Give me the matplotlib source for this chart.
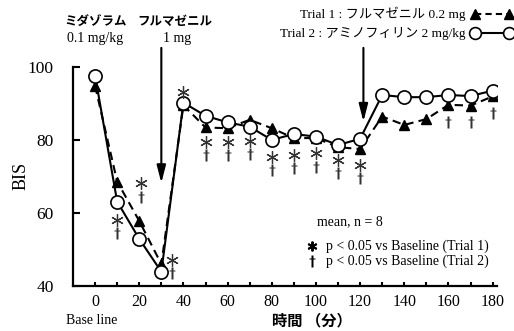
import numpy as np
import matplotlib.pyplot as plt
from matplotlib.lines import Line2D

# BIS over time, two trials
t = [0, 10, 20, 30, 40, 50, 60, 70, 80, 90, 100, 110, 120, 130, 140, 150, 160, 170, 180]
trial1 = [94.8, 68.6, 57.8, 46.0, 89.5, 83.4, 83.2, 85.5, 83.2, 80.5, 80.5, 78.0, 77.5,
          86.4, 84.1, 85.7, 89.6, 89.4, 91.9]
trial2 = [97.6, 63.1, 52.9, 43.9, 90.2, 86.6, 84.8, 83.6, 80.0, 81.6, 80.9, 78.6, 80.3,
          92.3, 91.7, 91.7, 92.3, 92.0, 93.5]

# significance marks (vs baseline)
star_x = [10, 21, 35, 40, 50, 60, 70, 80, 90, 100, 110, 120]
star_y = [58.0, 68.3, 47.1, 93.2, 79.5, 79.5, 79.8, 75.4, 75.9, 76.4, 74.5, 73.2]
dagger_x = [10, 21, 35, 50, 60, 70, 80, 90, 100, 110, 120, 160, 170, 180]
dagger_y = [54.5, 64.5, 43.6, 75.9, 75.9, 76.1, 71.8, 72.3, 72.7, 70.9, 69.5, 85.0, 85.0, 87.3]

xticks = list(range(0, 181, 20))
yticks = [40, 60, 80, 100]

SERIF = 'Liberation Serif'
JP = 'Noto Sans CJK JP'
MIX = [SERIF, JP]

plt.rcParams['font.family'] = MIX

fig = plt.figure(figsize=(5.14, 3.31), dpi=100)
ax = fig.add_axes([0.142, 0.136, 0.825, 0.662])

ax.plot(t, trial1, color='k', lw=1.5, ls=(0, (4, 2.5)), marker='^', ms=7.5,
        mfc='k', mec='k', zorder=3)
ax.plot(t, trial2, color='k', lw=1.5, ls='-', marker='o', ms=9.5,
        mfc='white', mec='k', mew=1.2, zorder=4)

# asterisks and daggers
ax.plot(star_x, star_y, ls='none', marker=(6, 2, 0), ms=9, mec='#333333', mew=0.9,
        clip_on=False, zorder=5)
ax.plot(dagger_x, dagger_y, ls='none', marker=r'$\dagger$', ms=8, mfc='#333333',
        mec='none', clip_on=False, zorder=5)

# injection arrows
for x0, y1 in [(30, 68.2), (121.5, 85.0)]:
    ax.annotate('', xy=(x0, y1), xytext=(x0, 105.2), annotation_clip=False,
                arrowprops=dict(arrowstyle='-|>,head_length=0.7,head_width=0.18',
                                color='k', lw=1.5, mutation_scale=15, shrinkA=0, shrinkB=0))

ax.set_xlim(-10, 182)
ax.set_ylim(40, 100)
ax.spines['top'].set_visible(False)
ax.spines['right'].set_visible(False)
for s in ['left', 'bottom']:
    ax.spines[s].set_linewidth(1.6)
ax.set_xticks(xticks)
ax.set_xticks(range(0, 181, 10), minor=True)
ax.set_yticks(yticks)
ax.tick_params(axis='x', which='both', direction='in', length=3, width=1.5, labelsize=11.5, pad=6)
ax.tick_params(axis='y', direction='in', length=5, width=1.5, labelsize=12.5, pad=14)
for lab in ax.get_xticklabels() + ax.get_yticklabels():
    lab.set_family(SERIF)

fig.text(0.041, 0.468, 'BIS', rotation=90, ha='center', va='center', fontsize=13, family=SERIF)
fig.text(0.607, 0.031, '時間 （分）', ha='center', va='center', fontsize=11,
         family=JP, weight='bold')
fig.text(0.179, 0.033, 'Base line', ha='center', va='center', fontsize=10, family=SERIF)

# drug labels on top
fig.text(0.185, 0.934, 'ミダゾラム', ha='center', va='center', fontsize=9, family=JP, weight='bold')
fig.text(0.185, 0.885, '0.1 mg/kg', ha='center', va='center', fontsize=10, family=SERIF)
fig.text(0.340, 0.934, 'フルマゼニル', ha='center', va='center', fontsize=9, family=JP, weight='bold')
fig.text(0.344, 0.885, '1 mg', ha='center', va='center', fontsize=10, family=SERIF)

# legend drawn by hand
fig.text(0.905, 0.958, 'Trial 1 : フルマゼニル 0.2 mg', ha='right', va='center', fontsize=9.5, family=MIX)
fig.text(0.905, 0.900, 'Trial 2 : アミノフィリン 2 mg/kg', ha='right', va='center', fontsize=9.5, family=MIX)
fig.add_artist(Line2D([0.924, 0.990], [0.958, 0.958], transform=fig.transFigure, color='k',
                      lw=1.5, ls=(0, (3, 2)), marker='^', ms=7.5, mfc='k'))
fig.add_artist(Line2D([0.924, 0.990], [0.900, 0.900], transform=fig.transFigure, color='k',
                      lw=1.5, marker='o', ms=8.5, mfc='white', mew=1.2))

# note box
ax.text(100.5, 57.5, 'mean, n = 8', ha='left', va='center', fontsize=10, family=SERIF)
ax.plot([98.2], [51.0], ls='none', marker=(6, 2, 0), ms=7, mec='k', mew=1.4)
ax.plot([98.2], [46.8], ls='none', marker=r'$\dagger$', ms=8, mfc='k', mec='none')
ax.text(104.5, 51.0, 'p < 0.05 vs Baseline (Trial 1)', ha='left', va='center', fontsize=10, family=SERIF)
ax.text(104.5, 46.8, 'p < 0.05 vs Baseline (Trial 2)', ha='left', va='center', fontsize=10, family=SERIF)

fig.savefig('out.png', dpi=100)
